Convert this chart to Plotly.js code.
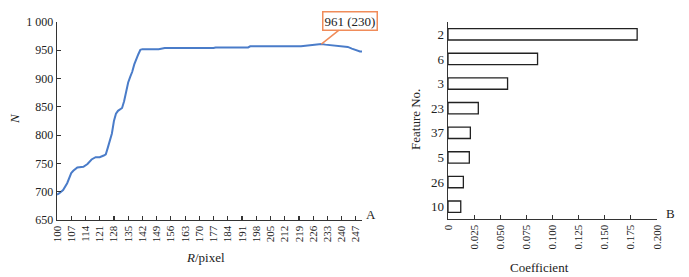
<!DOCTYPE html>
<html>
<head>
<meta charset="utf-8">
<script src="https://cdn.plot.ly/plotly-3.0.1.min.js"></script>
<style>html,body{margin:0;padding:0;background:#fff;}#chart{width:689px;height:277px;}</style>
</head>
<body>
<div id="chart"></div>
<script>
// Panel A: N versus R (pixel)
const radius = [100,101,103,105,107,108,110,112,113,115,117,119,121,123,124,125,126,127,128,129,130,131,132,133,134,135,136,137,138,139,140,141,142,150,152,153,177,178,194,195,220,222,228,230,232,236,240,243,245,247,249,250];
const countN = [695,697,703,715,733,737,743,744,744,749,757,761,761,764,766,778,790,803,825,838,843,845,848,860,880,893,903,912,925,935,943,951,952,952,953,954,954,955,955,957,957,958,960,961,960,959,958,956,953,950,948,948];
const xTicksA = [100,107,114,121,128,135,142,149,156,163,170,177,184,191,198,205,212,219,226,233,240,247];
const yTicksA = [650,700,750,800,850,900,950,1000];
const yTickTextA = ['650','700','750','800','850','900','950','1 000'];
const peakR = 230, peakN = 961, peakLabel = '961 (230)';

// Panel B: feature coefficients
const features = ['2','6','3','23','37','5','26','10'];
const coefficients = [0.181, 0.0857, 0.057, 0.029, 0.0214, 0.0204, 0.0147, 0.0122];
const xTicksB = [0,0.025,0.05,0.075,0.1,0.125,0.15,0.175,0.2];
const xTickTextB = ['0','0.025','0.050','0.075','0.100','0.125','0.150','0.175','0.200'];

const fam = 'Liberation Serif, Times New Roman, serif';
const font = {family:fam, size:13, color:'#222'};
const xtf = {family:fam, size:11, color:'#222'};
const ytf = {family:fam, size:12, color:'#222'};
const axisCommon = {showline:true, linecolor:'#333', linewidth:1.3, ticks:'inside', ticklen:4, tickcolor:'#333', tickwidth:1.2, showgrid:false, zeroline:false};

const W = 689, H = 277;
const px = x => x / W, py = y => 1 - y / H;

const traces = [
  {x: radius, y: countN, type:'scatter', mode:'lines', line:{color:'#4A7CC9', width:2}, xaxis:'x', yaxis:'y', hoverinfo:'skip'},
  {x: coefficients, y: features, type:'bar', orientation:'h', marker:{color:'#ffffff', line:{color:'#222', width:1.3}}, xaxis:'x2', yaxis:'y2', hoverinfo:'skip'}
];

function lab(x, y, text, angle) {
  return {x: px(x), y: py(y), xref:'paper', yref:'paper', text:text, showarrow:false, textangle:angle||0, xanchor:'center', yanchor:'middle', font:font};
}

const layout = {
  width: W, height: H, margin:{l:0,r:0,t:0,b:0}, showlegend:false,
  paper_bgcolor:'#fff', plot_bgcolor:'#fff', font: font, bargap:0.54,
  xaxis: Object.assign({}, axisCommon, {domain:[px(57), px(362)], range:[100,250], tickvals:xTicksA, tickangle:-90, tickfont:xtf}),
  yaxis: Object.assign({}, axisCommon, {domain:[py(220), py(22)], range:[650,1000], tickvals:yTicksA, ticktext:yTickTextA, tickfont:ytf}),
  xaxis2: Object.assign({}, axisCommon, {anchor:'y2', domain:[px(448), px(657)], range:[0,0.2], tickvals:xTicksB, ticktext:xTickTextB, tickangle:-90, tickfont:xtf}),
  yaxis2: Object.assign({}, axisCommon, {anchor:'x2', domain:[py(219), py(22)], type:'category', autorange:'reversed', ticks:'', categoryorder:'array', categoryarray:features, tickfont:font}),
  annotations: [
    {x: peakR, y: peakN, xref:'x', yref:'y', text: peakLabel, showarrow:true, arrowhead:0, arrowwidth:1.5, arrowcolor:'#F08C5A', ax:29, ay:-23, bordercolor:'#F08C5A', borderwidth:1.5, borderpad:1, bgcolor:'#fff', font:font},
    lab(14, 119, '<i>N</i>', -90),
    lab(205, 257, '<i>R</i>/pixel'),
    lab(416, 120, 'Feature No.', -90),
    lab(539, 267, 'Coefficient'),
    lab(371, 214, 'A'),
    lab(670, 213, 'B')
  ]
};

Plotly.newPlot('chart', traces, layout, {staticPlot:true, displayModeBar:false});
</script>
</body>
</html>
